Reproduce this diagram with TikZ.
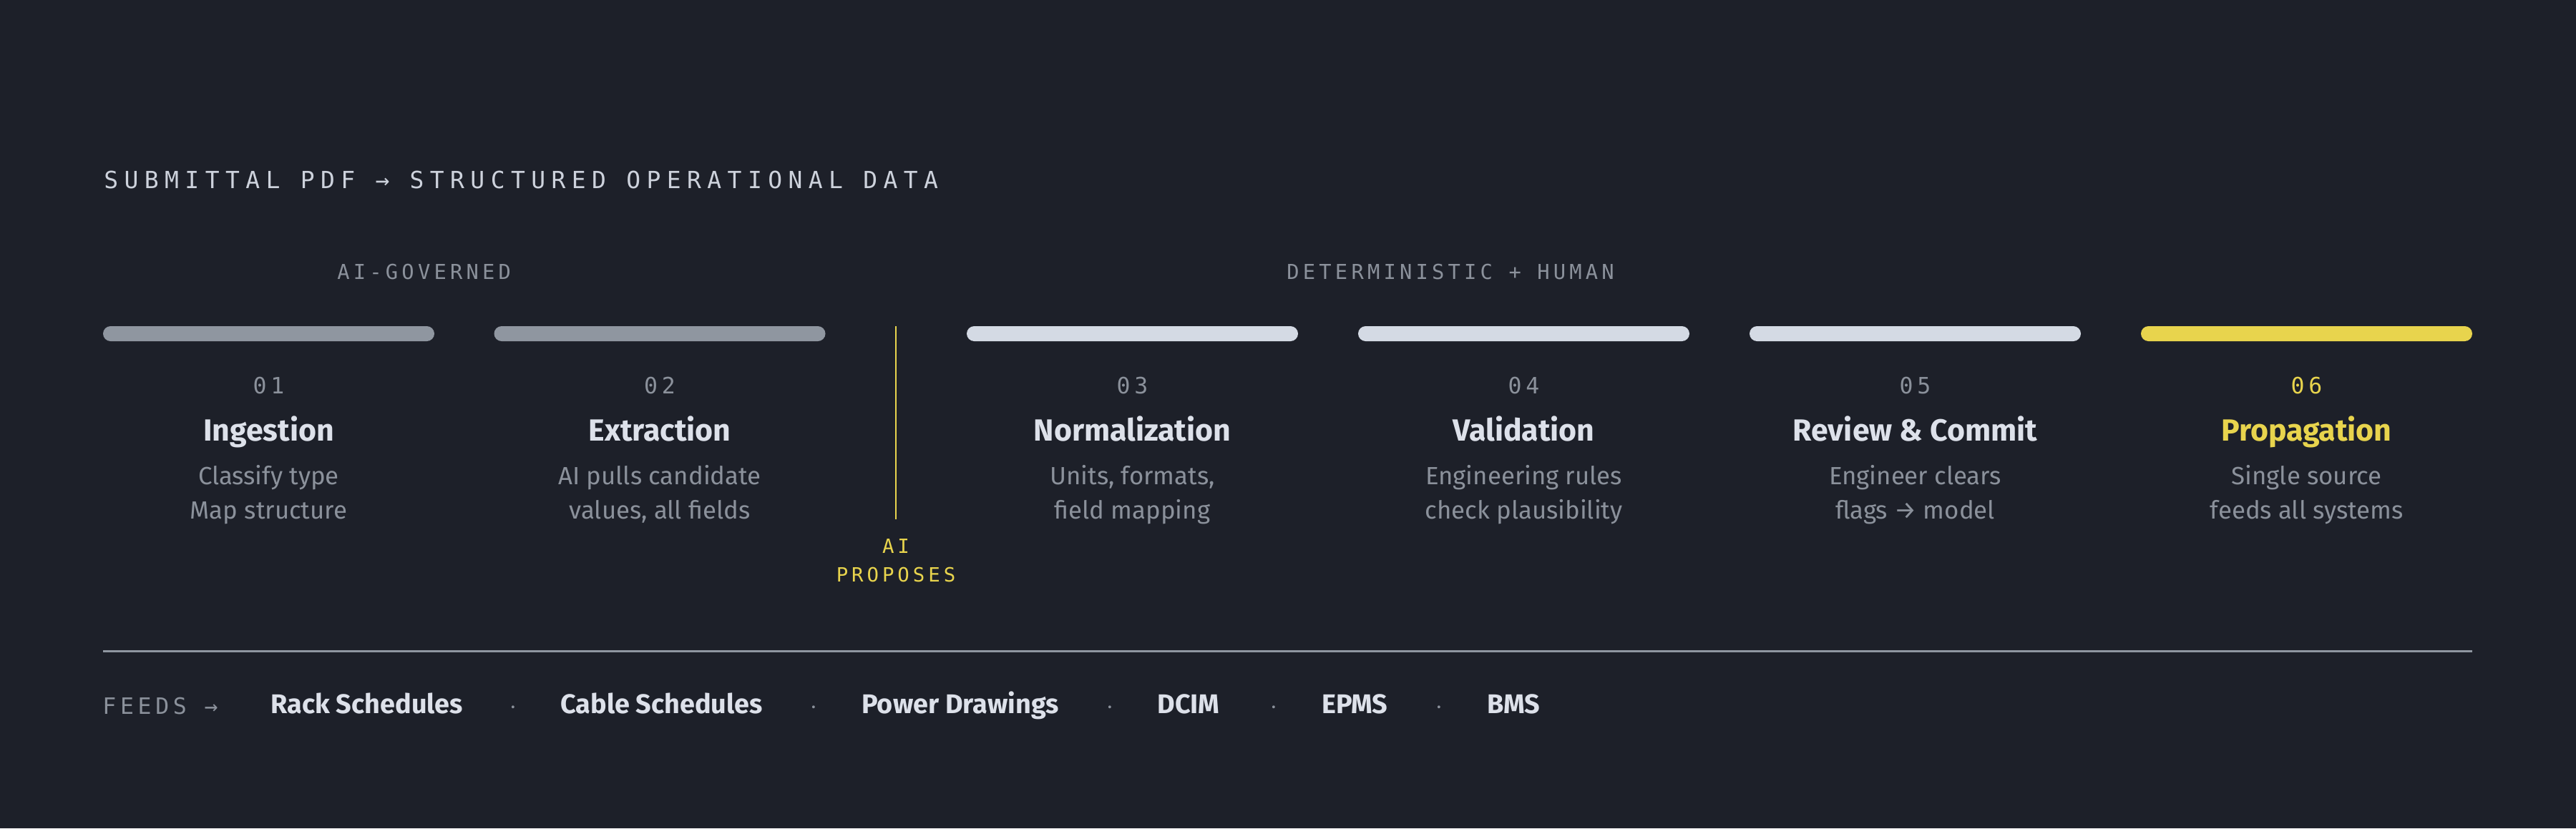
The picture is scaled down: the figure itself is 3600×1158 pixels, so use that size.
\documentclass[tikz,border=0pt]{standalone}
\usepackage{fontspec}
\setmainfont{Fira Sans}
\newfontfamily\monofont[LetterSpace=18]{DejaVu Sans Mono}
\newfontfamily\monowide[LetterSpace=25.5]{DejaVu Sans Mono}
\usepackage{tikz}
\usetikzlibrary{positioning}
\definecolor{bgdark}{HTML}{1D2029}
\definecolor{bargray}{HTML}{8F96A0}
\definecolor{barlight}{HTML}{D4DAE4}
\definecolor{accent}{HTML}{E8D44D}
\definecolor{txtlight}{HTML}{DDE1EA}
\definecolor{txtgray}{HTML}{8B919B}
\definecolor{txttitle}{HTML}{CDD2DC}
\tikzstyle{bar} = [rectangle, rounded corners=5.25pt, minimum width=231.5pt, minimum height=10.5pt, inner sep=0pt]
\tikzstyle{num} = [anchor=base, inner sep=0pt, text=txtgray, font=\monofont\fontsize{15.75}{18}\selectfont]
\tikzstyle{stepname} = [anchor=base, inner sep=0pt, text=txtlight, font=\bfseries\fontsize{21.4}{26}\selectfont]
\tikzstyle{desc} = [anchor=base, inner sep=0pt, align=center, text=txtgray, font=\fontsize{17.4}{24}\selectfont]
\tikzstyle{group} = [anchor=base west, inner sep=0pt, text=txtgray, font=\monofont\fontsize{14.4}{18}\selectfont]
\tikzstyle{feed} = [anchor=base west, inner sep=0pt, text=txtlight, font=\bfseries\fontsize{18.9}{22}\selectfont]
\tikzstyle{sep} = [anchor=base, inner sep=0pt, text=txtgray, font=\fontsize{14}{16}\selectfont]

\begin{document}
\begin{tikzpicture}[x=0.5pt, y=-0.5pt]
    \fill[bgdark] (0,0) rectangle (3600,1158);
    \useasboundingbox (0,0) rectangle (3600,1158);

    \node[anchor=base west, inner sep=0pt, text=txttitle, font=\monowide\fontsize{16.5}{20}\selectfont] (title) at (145,263) {SUBMITTAL PDF → STRUCTURED OPERATIONAL DATA};
    \node[group] (g1) at (471,390) {AI-GOVERNED};
    \node[group] (g2) at (1798,390) {DETERMINISTIC + HUMAN};

    % phase bars
    \node[bar, fill=bargray] (b1) at (375.5,466.5) {}; \node[bar, fill=bargray] (b2) at (922,466.5) {};
    \node[bar, fill=barlight] (b3) at (1582.5,466.5) {}; \node[bar, fill=barlight] (b4) at (2129.5,466.5) {};
    \node[bar, fill=barlight] (b5) at (2676.5,466.5) {}; \node[bar, fill=accent] (b6) at (3223.5,466.5) {};

    \node[num] (n1) at (375.5,550) {01}; \node[num] (n2) at (922,550) {02}; \node[num] (n3) at (1582.5,550) {03};
    \node[num] (n4) at (2129.5,550) {04}; \node[num] (n5) at (2676.5,550) {05}; \node[num, text=accent] (n6) at (3223.5,550) {06};

    \node[stepname] (s1) at (375.5,616) {Ingestion};
    \node[stepname] (s2) at (922,616) {Extraction};
    \node[stepname] (s3) at (1582.5,616) {Normalization};
    \node[stepname] (s4) at (2129.5,616) {Validation};
    \node[stepname] (s5) at (2676.5,616) {Review \& Commit};
    \node[stepname, text=accent] (s6) at (3223.5,616) {Propagation};

    % base anchor sits on the last line
    \node[desc] (d1) at (375.5,725) {Classify type\\Map structure};
    \node[desc] (d2) at (922,725) {AI pulls candidate\\values, all fields};
    \node[desc] (d3) at (1582.5,725) {Units, formats,\\field mapping};
    \node[desc] (d4) at (2129.5,725) {Engineering rules\\check plausibility};
    \node[desc] (d5) at (2676.5,725) {Engineer clears\\flags → model};
    \node[desc] (d6) at (3223.5,725) {Single source\\feeds all systems};

    % hand-off marker
    \coordinate (m1) at (1252,456); \coordinate (m2) at (1252,726);
    \draw[accent, line width=1.4pt] (m1) -- (m2);
    \node[anchor=base, inner sep=0pt, align=center, text=accent, font=\monofont\fontsize{13.7}{20}\selectfont] (aip) at (1252,813) {AI\\PROPOSES};

    \coordinate (r1) at (144,910); \coordinate (r2) at (3455,910);
    \draw[bargray, line width=1.5pt] (r1) -- (r2);

    \node[anchor=base west, inner sep=0pt, text=txtgray, font=\monofont\fontsize{15.75}{18}\selectfont] (feeds) at (143,998) {FEEDS →};
    \node[feed] (f1) at (378,997) {Rack Schedules}; \node[sep] (p1) at (717,997) {·};
    \node[feed] (f2) at (783,997) {Cable Schedules}; \node[sep] (p2) at (1137,997) {·};
    \node[feed] (f3) at (1204,997) {Power Drawings}; \node[sep] (p3) at (1551,997) {·};
    \node[feed] (f4) at (1617,997) {DCIM}; \node[sep] (p4) at (1780,997) {·};
    \node[feed] (f5) at (1847,997) {EPMS}; \node[sep] (p5) at (2011,997) {·};
    \node[feed] (f6) at (2078,997) {BMS};
\end{tikzpicture}
\end{document}
